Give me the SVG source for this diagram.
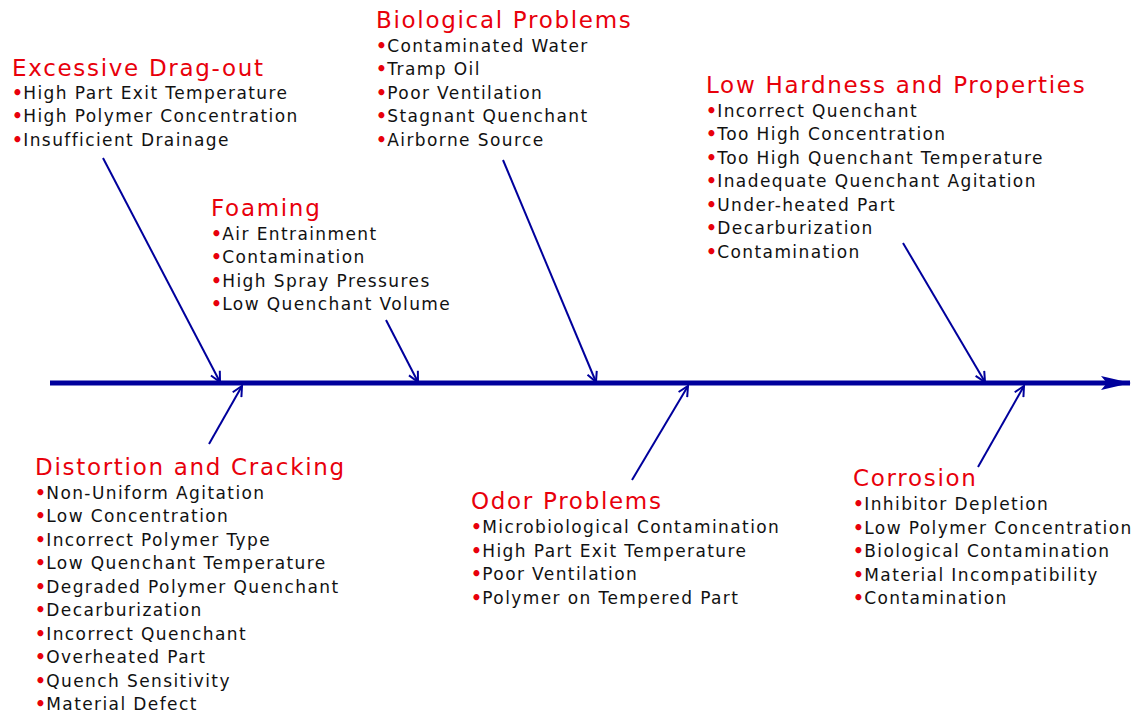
<svg xmlns="http://www.w3.org/2000/svg" width="1137" height="713" viewBox="0 0 1137 713">
<style>
.t{font-family:"DejaVu Sans",Verdana,sans-serif;font-size:23px;letter-spacing:1.7px;fill:#e8000b}
.i{font-family:"DejaVu Sans",Verdana,sans-serif;font-size:17px;letter-spacing:1.4px;fill:#111}
.b{fill:#e8000b;font-weight:bold;letter-spacing:0.4px}
.c{stroke:#00009c;stroke-width:2;fill:none;marker-end:url(#ah)}
</style>
<defs>
<marker id="ah" viewBox="0 0 12 12" refX="11" refY="6" markerWidth="12" markerHeight="12" markerUnits="userSpaceOnUse" orient="auto">
<path d="M1,1 L11,6 L1,11" fill="none" stroke="#00009c" stroke-width="2"/>
</marker>
<marker id="big" viewBox="0 0 30 14" refX="29" refY="7" markerWidth="30" markerHeight="14" markerUnits="userSpaceOnUse" orient="auto">
<path d="M0,0 L30,7 L0,14 L6,7 Z" fill="#00009c"/>
</marker>
</defs>
<g id="connectors">
<line x1="50" y1="383" x2="1130" y2="383" stroke="#00009c" stroke-width="5" marker-end="url(#big)"/>
<line class="c" x1="103" y1="158" x2="220" y2="382"/>
<line class="c" x1="386" y1="320" x2="418" y2="382"/>
<line class="c" x1="503" y1="160" x2="596" y2="382"/>
<line class="c" x1="903" y1="243" x2="985" y2="382"/>
<line class="c" x1="209" y1="444" x2="242" y2="386"/>
<line class="c" x1="632" y1="480" x2="688" y2="386"/>
<line class="c" x1="978" y1="467" x2="1024" y2="386"/>
</g>
<g id="drag">
<text class="t" x="12" y="76">Excessive Drag-out</text>
<text class="i" x="12" y="99"><tspan class="b">•</tspan>High Part Exit Temperature</text>
<text class="i" x="12" y="122"><tspan class="b">•</tspan>High Polymer Concentration</text>
<text class="i" x="12" y="146"><tspan class="b">•</tspan>Insufficient Drainage</text>
</g>
<g id="bio">
<text class="t" x="376" y="28">Biological Problems</text>
<text class="i" x="376" y="52"><tspan class="b">•</tspan>Contaminated Water</text>
<text class="i" x="376" y="75"><tspan class="b">•</tspan>Tramp Oil</text>
<text class="i" x="376" y="99"><tspan class="b">•</tspan>Poor Ventilation</text>
<text class="i" x="376" y="122"><tspan class="b">•</tspan>Stagnant Quenchant</text>
<text class="i" x="376" y="146"><tspan class="b">•</tspan>Airborne Source</text>
</g>
<g id="foam">
<text class="t" x="211" y="216">Foaming</text>
<text class="i" x="211" y="240"><tspan class="b">•</tspan>Air Entrainment</text>
<text class="i" x="211" y="263"><tspan class="b">•</tspan>Contamination</text>
<text class="i" x="211" y="287"><tspan class="b">•</tspan>High Spray Pressures</text>
<text class="i" x="211" y="310"><tspan class="b">•</tspan>Low Quenchant Volume</text>
</g>
<g id="hard">
<text class="t" x="706" y="93">Low Hardness and Properties</text>
<text class="i" x="706" y="117"><tspan class="b">•</tspan>Incorrect Quenchant</text>
<text class="i" x="706" y="140"><tspan class="b">•</tspan>Too High Concentration</text>
<text class="i" x="706" y="164"><tspan class="b">•</tspan>Too High Quenchant Temperature</text>
<text class="i" x="706" y="187"><tspan class="b">•</tspan>Inadequate Quenchant Agitation</text>
<text class="i" x="706" y="211"><tspan class="b">•</tspan>Under-heated Part</text>
<text class="i" x="706" y="234"><tspan class="b">•</tspan>Decarburization</text>
<text class="i" x="706" y="258"><tspan class="b">•</tspan>Contamination</text>
</g>
<g id="dist">
<text class="t" x="35" y="475">Distortion and Cracking</text>
<text class="i" x="35" y="499"><tspan class="b">•</tspan>Non-Uniform Agitation</text>
<text class="i" x="35" y="522"><tspan class="b">•</tspan>Low Concentration</text>
<text class="i" x="35" y="546"><tspan class="b">•</tspan>Incorrect Polymer Type</text>
<text class="i" x="35" y="569"><tspan class="b">•</tspan>Low Quenchant Temperature</text>
<text class="i" x="35" y="593"><tspan class="b">•</tspan>Degraded Polymer Quenchant</text>
<text class="i" x="35" y="616"><tspan class="b">•</tspan>Decarburization</text>
<text class="i" x="35" y="640"><tspan class="b">•</tspan>Incorrect Quenchant</text>
<text class="i" x="35" y="663"><tspan class="b">•</tspan>Overheated Part</text>
<text class="i" x="35" y="687"><tspan class="b">•</tspan>Quench Sensitivity</text>
<text class="i" x="35" y="710"><tspan class="b">•</tspan>Material Defect</text>
</g>
<g id="odor">
<text class="t" x="471" y="509">Odor Problems</text>
<text class="i" x="471" y="533"><tspan class="b">•</tspan>Microbiological Contamination</text>
<text class="i" x="471" y="557"><tspan class="b">•</tspan>High Part Exit Temperature</text>
<text class="i" x="471" y="580"><tspan class="b">•</tspan>Poor Ventilation</text>
<text class="i" x="471" y="604"><tspan class="b">•</tspan>Polymer on Tempered Part</text>
</g>
<g id="corr">
<text class="t" x="853" y="486">Corrosion</text>
<text class="i" x="853" y="510"><tspan class="b">•</tspan>Inhibitor Depletion</text>
<text class="i" x="853" y="534"><tspan class="b">•</tspan>Low Polymer Concentration</text>
<text class="i" x="853" y="557"><tspan class="b">•</tspan>Biological Contamination</text>
<text class="i" x="853" y="581"><tspan class="b">•</tspan>Material Incompatibility</text>
<text class="i" x="853" y="604"><tspan class="b">•</tspan>Contamination</text>
</g>
</svg>
